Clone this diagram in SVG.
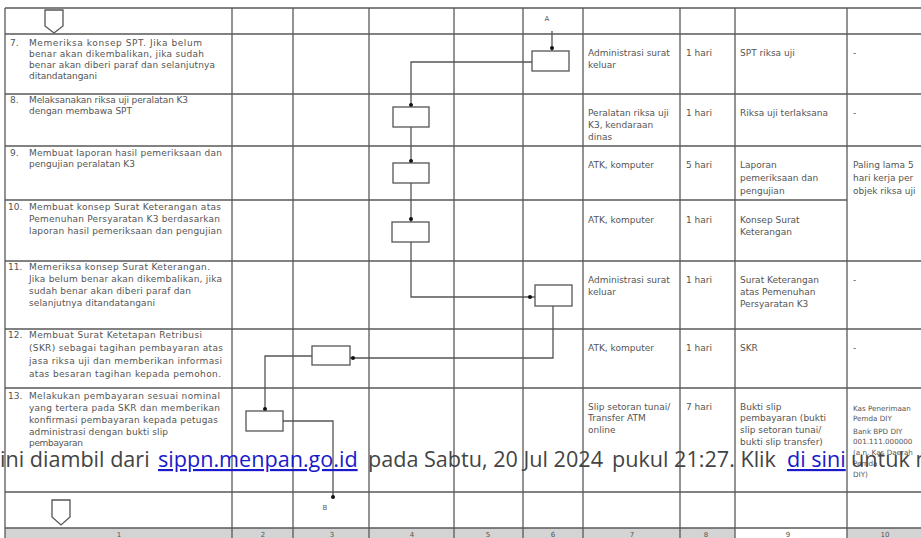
<svg xmlns="http://www.w3.org/2000/svg" width="921" height="538" viewBox="0 0 921 538">
<style>
.g{stroke:#5a5a5a;stroke-width:1.3;fill:none}
.t{font-family:"DejaVu Sans",sans-serif;font-size:9px;fill:#555}
.s{font-family:"DejaVu Sans",sans-serif;font-size:7.2px;fill:#555}
.n{font-family:"DejaVu Sans",sans-serif;font-size:7px;fill:#555;text-anchor:middle}
.box{fill:#fff;stroke:#555;stroke-width:1.3}
.c{stroke:#555;stroke-width:1.3;fill:none}
.o{font-family:"Open Sans",sans-serif;font-size:21.6px;fill:#444}
.l{font-family:"Open Sans",sans-serif;font-size:21.6px;fill:#1a1acc;text-decoration:underline}
</style>
<rect width="921" height="538" fill="#fff"/>
<g id="table">
<rect x="5" y="528" width="730" height="12" fill="#d4d4d4"/>
<rect x="847" y="528" width="80" height="12" fill="#d4d4d4"/>
<g class="g">
<path d="M5,8H921M5,34H921M5,94H921M5,146H921M5,200H847M5,261H921M5,329H921M5,388H921M5,492H921M5,528H921"/>
<path d="M5,8V538M232,8V538M293,8V538M369,8V538M454,8V538M523,8V538M583,8V538M680,8V538M735,8V538M847,8V538"/>
</g>
<g class="n">
<text x="119" y="537">1</text><text x="263" y="537">2</text><text x="332" y="537">3</text><text x="412" y="537">4</text><text x="488" y="537">5</text><text x="553" y="537">6</text><text x="632" y="537">7</text><text x="706" y="537">8</text><text x="788" y="537">9</text><text x="885" y="537">10</text>
</g>
</g>
<g id="row7" class="t">
<text x="10" y="46">7.</text>
<text x="29" y="46" textLength="173" lengthAdjust="spacing">Memeriksa konsep SPT. Jika belum</text>
<text x="29" y="57" textLength="175" lengthAdjust="spacing">benar akan dikembalikan, jika sudah</text>
<text x="29" y="68" textLength="186" lengthAdjust="spacing">benar akan diberi paraf dan selanjutnya</text>
<text x="29" y="79" textLength="68" lengthAdjust="spacing">ditandatangani</text>
<text x="588" y="56">Administrasi surat</text><text x="588" y="68">keluar</text>
<text x="686" y="56">1 hari</text>
<text x="740" y="56">SPT riksa uji</text>
<text x="853" y="56">-</text>
</g>
<g id="row8" class="t">
<text x="10" y="103">8.</text>
<text x="29" y="103" textLength="159" lengthAdjust="spacing">Melaksanakan riksa uji peralatan K3</text>
<text x="29" y="114" textLength="103" lengthAdjust="spacing">dengan membawa SPT</text>
<text x="588" y="116">Peralatan riksa uji</text><text x="588" y="128">K3, kendaraan</text><text x="588" y="140">dinas</text>
<text x="686" y="116">1 hari</text>
<text x="740" y="116">Riksa uji terlaksana</text>
<text x="853" y="116">-</text>
</g>
<g id="row9" class="t">
<text x="10" y="156">9.</text>
<text x="29" y="156" textLength="193" lengthAdjust="spacing">Membuat laporan hasil pemeriksaan dan</text>
<text x="29" y="167" textLength="106" lengthAdjust="spacing">pengujian peralatan K3</text>
<text x="588" y="168">ATK, komputer</text>
<text x="686" y="168">5 hari</text>
<text x="740" y="168">Laporan</text><text x="740" y="181">pemeriksaan dan</text><text x="740" y="194">pengujian</text>
<text x="853" y="168">Paling lama 5</text><text x="853" y="181">hari kerja per</text><text x="853" y="194">objek riksa uji</text>
</g>
<g id="row10" class="t">
<text x="8" y="210">10.</text>
<text x="29" y="210" textLength="192" lengthAdjust="spacing">Membuat konsep Surat Keterangan atas</text>
<text x="29" y="222" textLength="191" lengthAdjust="spacing">Pemenuhan Persyaratan K3 berdasarkan</text>
<text x="29" y="234" textLength="193" lengthAdjust="spacing">laporan hasil pemeriksaan dan pengujian</text>
<text x="588" y="223">ATK, komputer</text>
<text x="686" y="223">1 hari</text>
<text x="740" y="223">Konsep Surat</text><text x="740" y="235">Keterangan</text>
</g>
<g id="row11" class="t">
<text x="8" y="270">11.</text>
<text x="29" y="270" textLength="181" lengthAdjust="spacing">Memeriksa konsep Surat Keterangan.</text>
<text x="29" y="282" textLength="193" lengthAdjust="spacing">Jika belum benar akan dikembalikan, jika</text>
<text x="29" y="294" textLength="162" lengthAdjust="spacing">sudah benar akan diberi paraf dan</text>
<text x="29" y="306" textLength="126" lengthAdjust="spacing">selanjutnya ditandatangani</text>
<text x="588" y="283">Administrasi  surat</text><text x="588" y="295">keluar</text>
<text x="686" y="283">1 hari</text>
<text x="740" y="283">Surat Keterangan</text><text x="740" y="295">atas Pemenuhan</text><text x="740" y="307">Persyaratan K3</text>
<text x="853" y="283">-</text>
</g>
<g id="row12" class="t">
<text x="8" y="338">12.</text>
<text x="29" y="338" textLength="173" lengthAdjust="spacing">Membuat Surat Ketetapan Retribusi</text>
<text x="29" y="351" textLength="194" lengthAdjust="spacing">(SKR) sebagai tagihan pembayaran atas</text>
<text x="29" y="364" textLength="193" lengthAdjust="spacing">jasa riksa uji dan memberikan informasi</text>
<text x="29" y="377" textLength="192" lengthAdjust="spacing">atas besaran tagihan kepada pemohon.</text>
<text x="588" y="351">ATK, komputer</text>
<text x="686" y="351">1 hari</text>
<text x="740" y="351">SKR</text>
<text x="853" y="351">-</text>
</g>
<g id="row13">
<g class="t">
<text x="8" y="399">13.</text>
<text x="29" y="399" textLength="191" lengthAdjust="spacing">Melakukan pembayaran sesuai nominal</text>
<text x="29" y="411" textLength="191" lengthAdjust="spacing">yang tertera pada SKR dan memberikan</text>
<text x="29" y="423" textLength="189" lengthAdjust="spacing">konfirmasi pembayaran kepada petugas</text>
<text x="29" y="435" textLength="139" lengthAdjust="spacing">administrasi dengan bukti slip</text>
<text x="29" y="446" textLength="54" lengthAdjust="spacing">pembayaran</text>
<text x="588" y="410">Slip setoran tunai/</text><text x="588" y="421">Transfer ATM</text><text x="588" y="433">online</text>
<text x="686" y="410">7 hari</text>
<text x="740" y="410">Bukti slip</text><text x="740" y="421">pembayaran (bukti</text><text x="740" y="433">slip setoran tunai/</text><text x="740" y="445">bukti slip transfer)</text>
</g>
<g class="s">
<text x="853" y="411">Kas Penerimaan</text><text x="853" y="421">Pemda DIY</text>
<text x="853" y="434">Bank BPD DIY</text><text x="853" y="444">001.111.000000</text>
<text x="853" y="455">(a.n. Kas Daerah</text><text x="853" y="466">Pemda</text><text x="853" y="477">DIY)</text>
</g>
</g>
<g id="start"><path class="box" d="M45,10H63V26L54,33L45,26Z"/></g>
<g id="end"><path class="box" d="M52,500H70V517L61,525L52,517Z"/></g>
<g id="labelA"><text class="n" x="547" y="21">A</text></g>
<g id="labelB"><text class="n" x="325" y="510">B</text></g>
<g id="connectors" class="c">
<path d="M552,31V51"/>
<path d="M532,62H411V107"/>
<path d="M411,127V163"/>
<path d="M411,183V222"/>
<path d="M411,242V297H535"/>
<path d="M553,306V358H350"/>
<path d="M312,356H265V411"/>
<path d="M283,421H333V497"/>
<g fill="#111" stroke="none">
<circle cx="552" cy="48" r="2"/><circle cx="411" cy="105" r="2"/><circle cx="411" cy="161" r="2"/><circle cx="411" cy="219" r="2"/><circle cx="530" cy="297" r="2"/><circle cx="353" cy="358" r="2"/><circle cx="265" cy="409" r="2"/><circle cx="333" cy="497" r="2"/>
</g>
</g>
<g id="box7"><rect class="box" x="532" y="51" width="37" height="20"/></g>
<g id="box8"><rect class="box" x="393" y="107" width="36" height="20"/></g>
<g id="box9"><rect class="box" x="393" y="163" width="36" height="20"/></g>
<g id="box10"><rect class="box" x="392" y="222" width="37" height="20"/></g>
<g id="box11"><rect class="box" x="535" y="285" width="37" height="21"/></g>
<g id="box12"><rect class="box" x="312" y="346" width="38" height="19"/></g>
<g id="box13"><rect class="box" x="246" y="411" width="37" height="20"/></g>
<g id="overlay">
<text class="o" x="0" y="467">ini diambil dari</text>
<text class="l" x="158" y="467">sippn.menpan.go.id</text>
<text class="o" x="368" y="467">pada Sabtu, 20 Jul 2024</text>
<text class="o" x="612" y="467">pukul 21:27. Klik</text>
<text class="l" x="787" y="467">di sini</text>
<text class="o" x="851" y="467">untuk m</text>
</g>
</svg>
